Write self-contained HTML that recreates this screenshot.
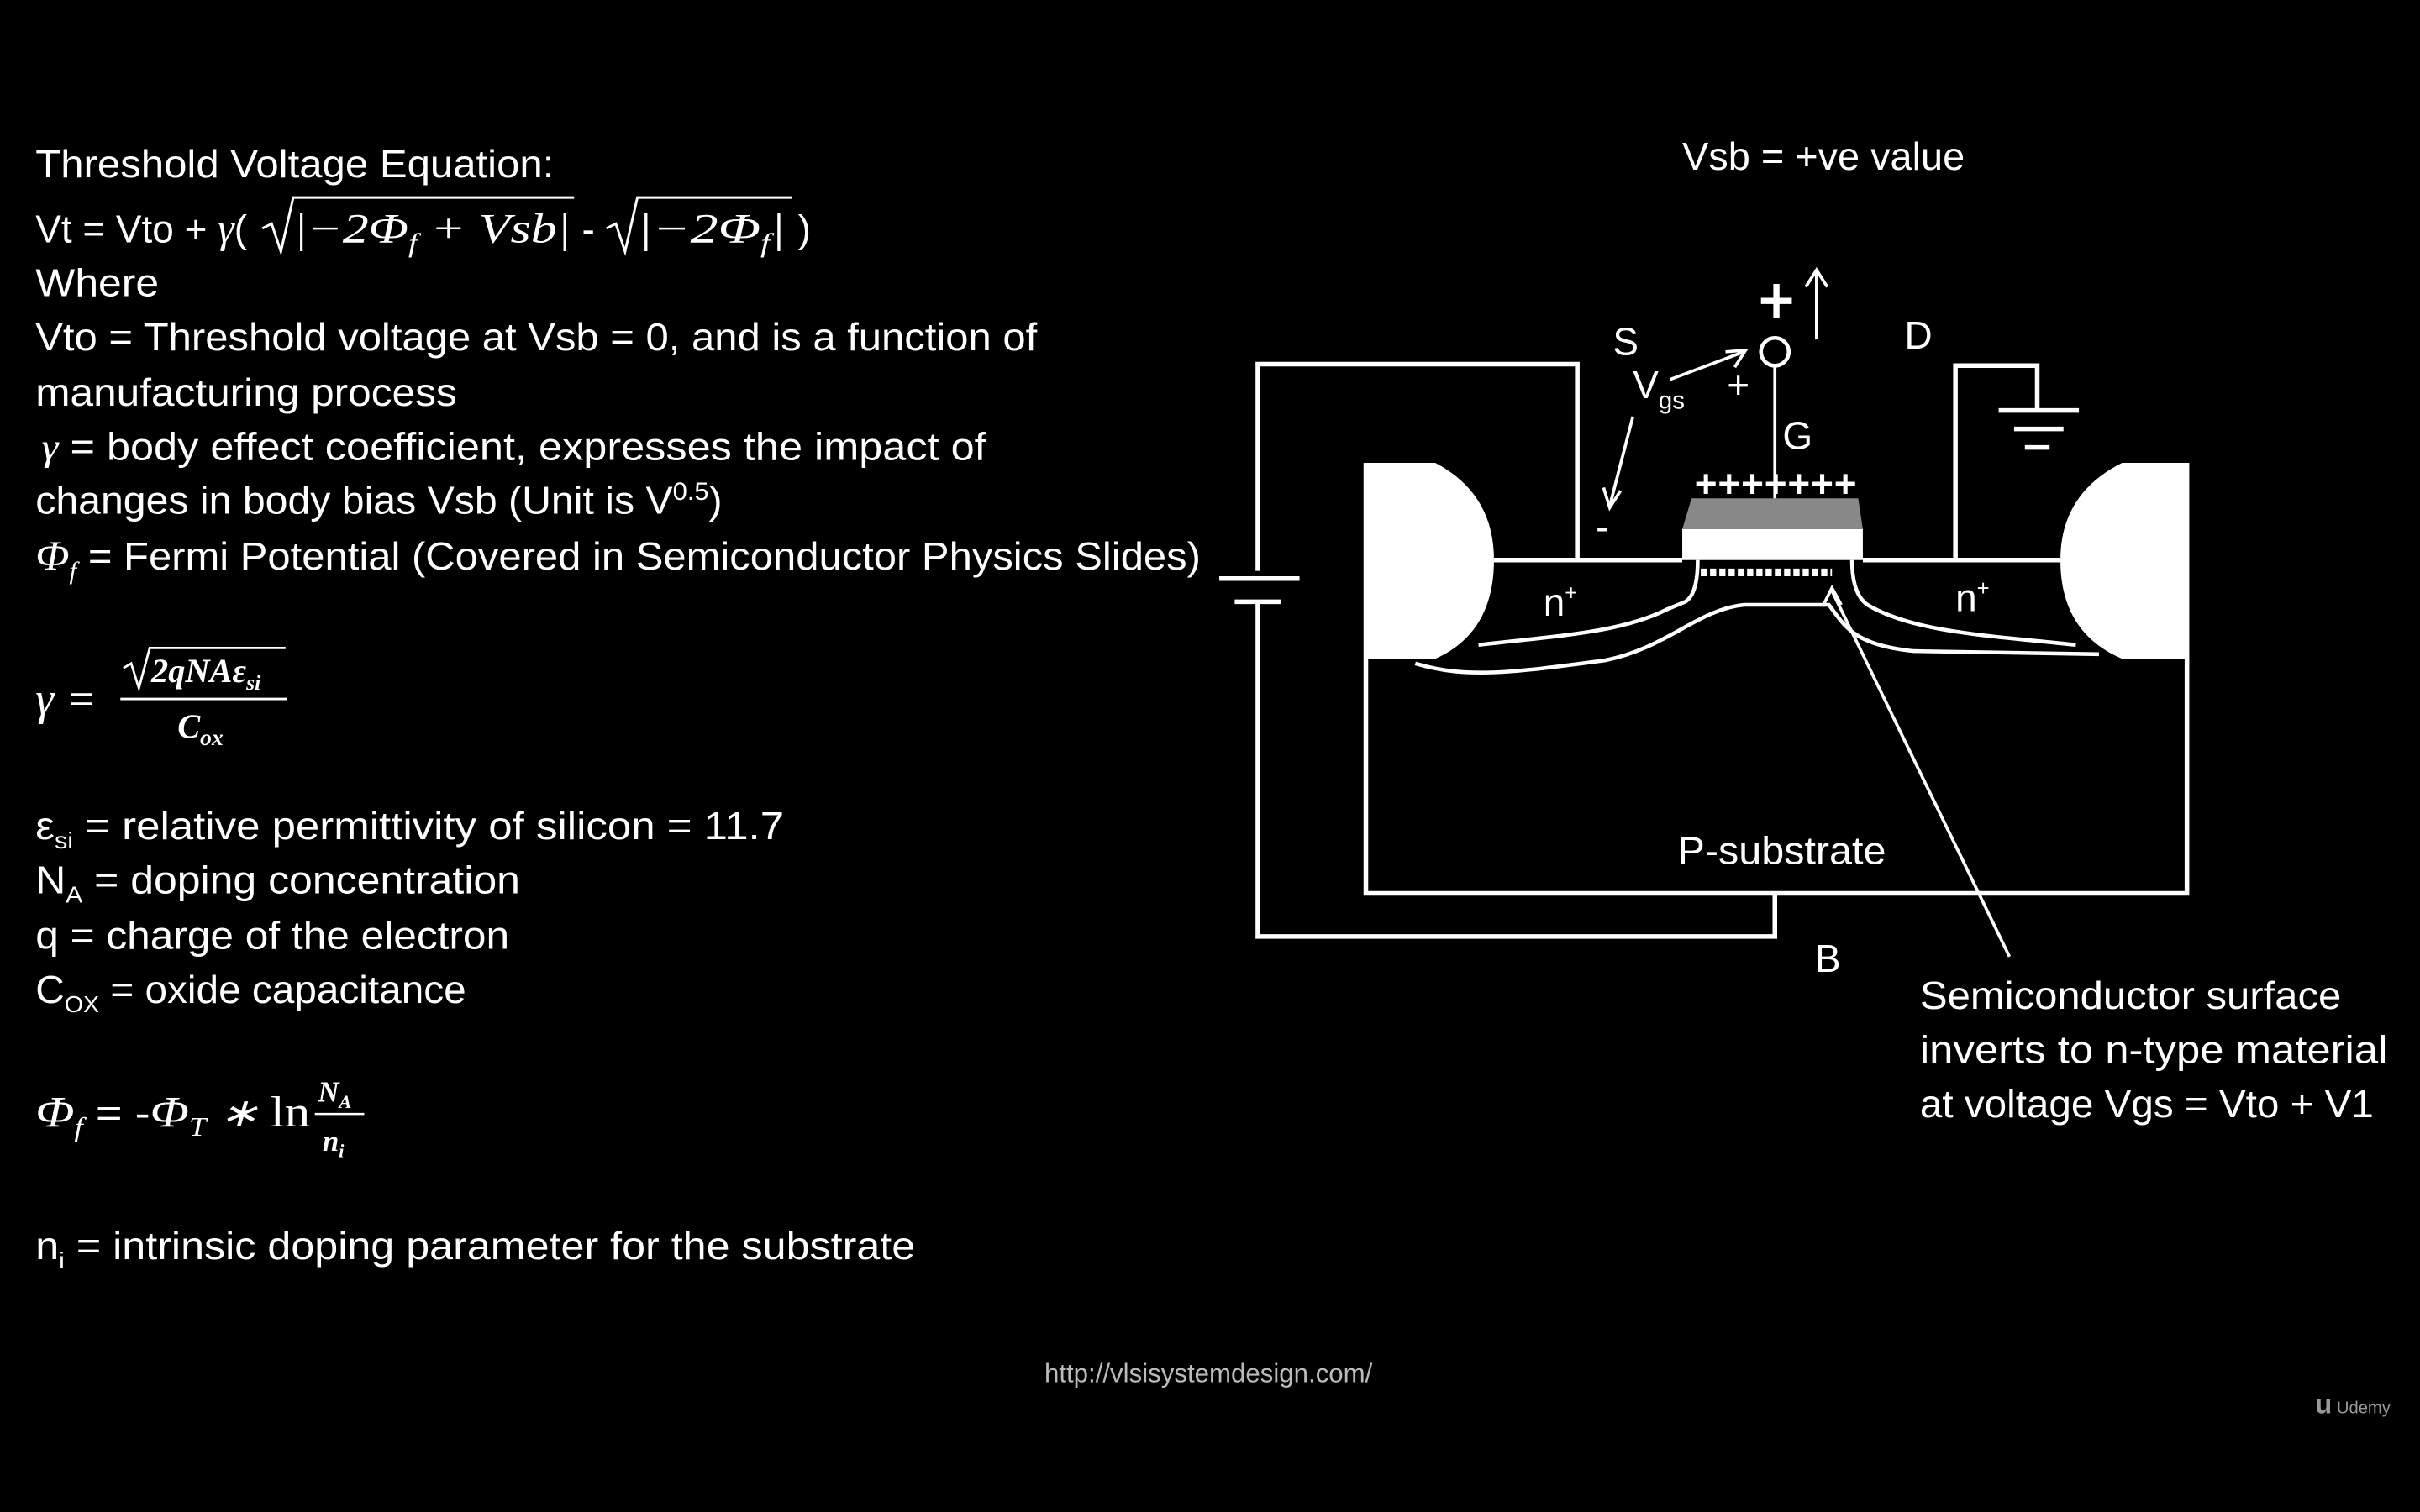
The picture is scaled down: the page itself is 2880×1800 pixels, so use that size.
<!DOCTYPE html>
<html><head><meta charset="utf-8">
<style>
html,body{margin:0;padding:0;background:#000;}
svg{display:block;}
.t{font-family:"Liberation Sans",sans-serif;fill:#fff;font-size:25px;}
.m{font-family:"Liberation Serif",serif;font-style:italic;fill:#fff;}
</style></head>
<body>
<svg width="2880" height="1800" viewBox="0 0 1568 980" xmlns="http://www.w3.org/2000/svg">
<rect width="1568" height="980" fill="#000"/>
<g>
<text class="t" x="23" y="115" textLength="336" lengthAdjust="spacingAndGlyphs">Threshold Voltage Equation:</text>
<g>
<text class="t" x="23" y="157">Vt = Vto + <tspan class="m" font-size="27">γ</tspan>(</text>
<path d="M170 148 L176 145 L182 163 L190 128 L372 128" stroke="#fff" stroke-width="1.6" fill="none"/>
<text class="m" x="190" y="157" font-size="27" textLength="180" lengthAdjust="spacingAndGlyphs">|−2Φ<tspan font-size="17" dy="6">f</tspan><tspan dy="-6"> + Vsb|</tspan></text>
<text class="t" x="377" y="157">-</text>
<path d="M393 148 L399 145 L405 163 L413 128 L513 128" stroke="#fff" stroke-width="1.6" fill="none"/>
<text class="m" x="413" y="157" font-size="27" textLength="96" lengthAdjust="spacingAndGlyphs">|−2Φ<tspan font-size="17" dy="6">f</tspan><tspan dy="-6">|</tspan></text>
<text class="t" x="517" y="157">)</text>
</g>
<text class="t" x="23" y="192" textLength="80" lengthAdjust="spacingAndGlyphs">Where</text>
<text class="t" x="23" y="227" textLength="649" lengthAdjust="spacingAndGlyphs">Vto = Threshold voltage at Vsb = 0, and is a function of</text>
<text class="t" x="23" y="263" textLength="273" lengthAdjust="spacingAndGlyphs">manufacturing process</text>
<text class="t" x="27" y="298" textLength="612" lengthAdjust="spacingAndGlyphs"><tspan class="m">γ</tspan> = body effect coefficient, expresses the impact of</text>
<text class="t" x="23" y="333" textLength="445" lengthAdjust="spacingAndGlyphs">changes in body bias Vsb (Unit is V<tspan font-size="16" dy="-9">0.5</tspan><tspan dy="9">)</tspan></text>
<text class="t" x="23" y="369" textLength="755" lengthAdjust="spacingAndGlyphs"><tspan class="m" font-size="27">Φ</tspan><tspan class="m" font-size="16" dy="6">f</tspan><tspan dy="-6"> = Fermi Potential (Covered in Semiconductor Physics Slides)</tspan></text>
<g>
<text class="m" x="23" y="463" font-size="30">γ =</text>
<path d="M80 433 L85 430 L90 446 L97 420 L185 420" stroke="#fff" stroke-width="1.5" fill="none"/>
<text class="m" x="98" y="442" font-size="22" font-weight="bold">2qNAε<tspan font-size="14" dy="5">si</tspan></text>
<line x1="78" y1="453" x2="186" y2="453" stroke="#fff" stroke-width="1.6"/>
<text class="m" x="115" y="478" font-size="22" font-weight="bold">C<tspan font-size="15" dy="5">ox</tspan></text>
</g>
<text class="t" x="23" y="544" textLength="485" lengthAdjust="spacingAndGlyphs">ε<tspan font-size="15" dy="6">si</tspan><tspan dy="-6"> = relative permittivity of silicon = 11.7</tspan></text>
<text class="t" x="23" y="579" textLength="314" lengthAdjust="spacingAndGlyphs">N<tspan font-size="15" dy="6">A</tspan><tspan dy="-6"> = doping concentration</tspan></text>
<text class="t" x="23" y="615" textLength="307" lengthAdjust="spacingAndGlyphs">q = charge of the electron</text>
<text class="t" x="23" y="650" textLength="279" lengthAdjust="spacingAndGlyphs">C<tspan font-size="15" dy="6">OX</tspan><tspan dy="-6"> = oxide capacitance</tspan></text>
<g>
<text class="t" x="23" y="730" textLength="178" lengthAdjust="spacingAndGlyphs"><tspan class="m" font-size="28">Φ</tspan><tspan class="m" font-size="17" dy="6">f</tspan><tspan dy="-6"> = -</tspan><tspan class="m" font-size="28">Φ</tspan><tspan class="m" font-size="17" dy="6">T</tspan><tspan dy="-6"> </tspan><tspan class="m" font-size="26">∗ </tspan><tspan font-family="Liberation Serif,serif" font-size="28">ln</tspan></text>
<text class="m" x="206" y="714" font-size="19" font-weight="bold">N<tspan font-size="12" dy="4">A</tspan></text>
<line x1="204" y1="722" x2="236" y2="722" stroke="#fff" stroke-width="1.4"/>
<text class="m" x="209" y="746" font-size="19" font-weight="bold">n<tspan font-size="12" dy="4">i</tspan></text>
</g>
<text class="t" x="23" y="816" textLength="570" lengthAdjust="spacingAndGlyphs">n<tspan font-size="15" dy="6">i</tspan><tspan dy="-6"> = intrinsic doping parameter for the substrate</tspan></text>
</g>
<g stroke="#fff" fill="none" stroke-width="3">
<text class="t" x="1090" y="110" stroke="none" textLength="183" lengthAdjust="spacingAndGlyphs">Vsb = +ve value</text>
<path d="M885 300 L885 579 L1417 579 L1417 300"/>
<path d="M968 363 L1090 363 M1207 363 L1335 363"/>
<path d="M885 300 L930 300 Q968 320 968 363 Q968 410 930 427 L885 427 Z" fill="#fff" stroke="none"/>
<path d="M1417 300 L1375 300 Q1335 320 1335 363 Q1335 410 1375 427 L1417 427 Z" fill="#fff" stroke="none"/>
<path d="M1096 323 L1204 323 L1207 343 L1090 343 Z" fill="#888" stroke="none"/>
<rect x="1090" y="343" width="117" height="20" fill="#fff" stroke="none"/>
<line x1="1102" y1="371" x2="1187" y2="371" stroke-width="5" stroke-dasharray="4,2"/>
<path d="M958 418 C1010 412 1050 410 1080 395 L1092 390 Q1100 385 1100 363" stroke-width="2.5"/>
<path d="M1200 363 Q1200 385 1210 392 C1240 410 1290 412 1345 418" stroke-width="2.5"/>
<path d="M917 430 C950 440 980 436 1040 428 C1080 420 1100 395 1130 392 L1185 392 C1195 405 1200 418 1240 422 L1360 424" stroke-width="2.5"/>
<path d="M1022 363 L1022 236 L815 236 L815 370 M815 390 L815 607 L1150 607 L1150 580"/>
<line x1="790" y1="375" x2="842" y2="375"/>
<line x1="800" y1="390" x2="830" y2="390"/>
<path d="M1267 363 L1267 237 L1320 237 L1320 266"/>
<line x1="1295" y1="266" x2="1347" y2="266"/>
<line x1="1305" y1="278" x2="1337" y2="278"/>
<line x1="1312" y1="290" x2="1328" y2="290"/>
<line x1="1150" y1="323" x2="1150" y2="238" stroke-width="2"/>
<circle cx="1150" cy="228" r="9" stroke-width="2.5"/>
<path d="M1141 195 L1161 195 M1151 184 L1151 206" stroke-width="4"/>
<path d="M1177 220 L1177 176 M1170 186 L1177 175 L1184 186" stroke-width="2"/>
<path d="M1082 246 L1130 228 M1118 228 L1131 227 L1124 238" stroke-width="2"/>
<path d="M1058 270 L1043 328 M1039 316 L1043 329 L1050 318" stroke-width="2"/>
<path d="M1187 383 L1302 620" stroke-width="2"/>
<path d="M1181 393 L1187 381 L1193 392" stroke-width="2"/>
</g>
<g>
<text class="t" x="1045" y="230">S</text>
<text class="t" x="1234" y="226">D</text>
<text class="t" x="1155" y="291">G</text>
<text class="t" x="1058" y="258">V<tspan font-size="16" dy="7">gs</tspan></text>
<text class="t" x="1119" y="258" font-size="20">+</text>
<text class="t" x="1034" y="350" font-size="20">-</text>
<text class="t" x="1098" y="322" font-size="20" font-weight="bold" textLength="105">+++++++</text>
<text class="t" x="1000" y="399">n<tspan font-size="14" dy="-10">+</tspan></text>
<text class="t" x="1267" y="396">n<tspan font-size="14" dy="-10">+</tspan></text>
<text class="t" x="1087" y="560" textLength="135" lengthAdjust="spacingAndGlyphs">P-substrate</text>
<text class="t" x="1176" y="630">B</text>
<text class="t" x="1244" y="654" textLength="273" lengthAdjust="spacingAndGlyphs">Semiconductor surface</text>
<text class="t" x="1244" y="689" textLength="303" lengthAdjust="spacingAndGlyphs">inverts to n-type material</text>
<text class="t" x="1244" y="724" textLength="294" lengthAdjust="spacingAndGlyphs">at voltage Vgs = Vto + V1</text>
</g>
<text x="783" y="896" text-anchor="middle" font-family="Liberation Sans,sans-serif" font-size="17" fill="#bbb">http://vlsisystemdesign.com/</text>
<text x="1500" y="916" font-family="Liberation Sans,sans-serif" font-size="11" fill="#999"><tspan font-size="18" font-weight="bold">u</tspan> Udemy</text>
</svg>
</body></html>
